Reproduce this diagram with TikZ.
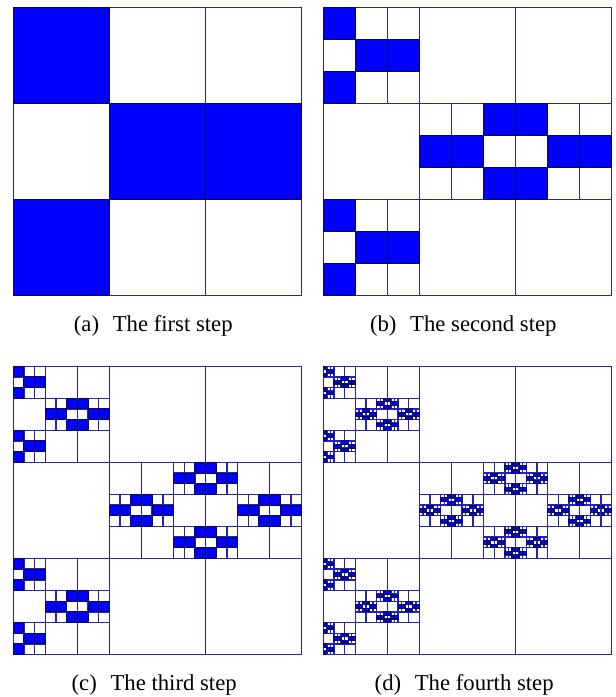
\documentclass[tikz,border=0pt]{standalone}
\usepackage{fontspec}
\setmainfont{Liberation Serif}
\definecolor{gridc}{RGB}{35,35,190}
\definecolor{cellc}{RGB}{0,0,255}
\definecolor{celledge}{RGB}{10,10,80}
\tikzset{
  gridline/.style={draw=gridc, line width=0.6pt},
  cellfill/.style={fill=cellc, draw=celledge, line width=0.45pt},
  caplabel/.style={anchor=base, font=\fontsize{10pt}{12pt}\selectfont, inner sep=0pt}
}
\newcommand\myfrac[1]{%
  \ifnum#1=0
    \filldraw[cellfill] (0,0) rectangle (3,3);%
  \else
    \draw[gridline] (0,0) rectangle (3,3) (1,0) -- (1,3) (2,0) -- (2,3) (0,1) -- (3,1) (0,2) -- (3,2);%
    \expandafter\myfracsub\expandafter{\the\numexpr#1-1\relax}%
  \fi}
\newcommand\myfracsub[1]{%
  \begin{scope}[scale=1/3]\myfrac{#1}\end{scope}%
  \begin{scope}[shift={(0,2)},scale=1/3]\myfrac{#1}\end{scope}%
  \begin{scope}[shift={(2,1)},xscale=-1/3,yscale=1/3]\myfrac{#1}\end{scope}%
  \begin{scope}[shift={(2,1)},scale=1/3]\myfrac{#1}\end{scope}%
}
\begin{document}
\begin{tikzpicture}[x=0.44pt,y=-0.44pt]
\useasboundingbox (0,0) rectangle (616,697);
\begin{scope}[shift={(13.3,7.3)},scale=288.4/3]\myfrac{1}\end{scope}
\begin{scope}[shift={(323.3,7.3)},scale=288.4/3]\myfrac{2}\end{scope}
\begin{scope}[shift={(13.3,366.2)},scale=288.4/3]\myfrac{3}\end{scope}
\begin{scope}[shift={(323.3,366.2)},scale=288.4/3]\myfrac{4}\end{scope}
\node[caplabel] (capa) at (153.3,331.5) {(a)\hspace{6pt}The first step};
\node[caplabel] (capb) at (463.3,331.5) {(b)\hspace{6pt}The second step};
\node[caplabel] (capc) at (154.2,690) {(c)\hspace{6pt}The third step};
\node[caplabel] (capd) at (464.2,690) {(d)\hspace{6pt}The fourth step};
\end{tikzpicture}
\end{document}
